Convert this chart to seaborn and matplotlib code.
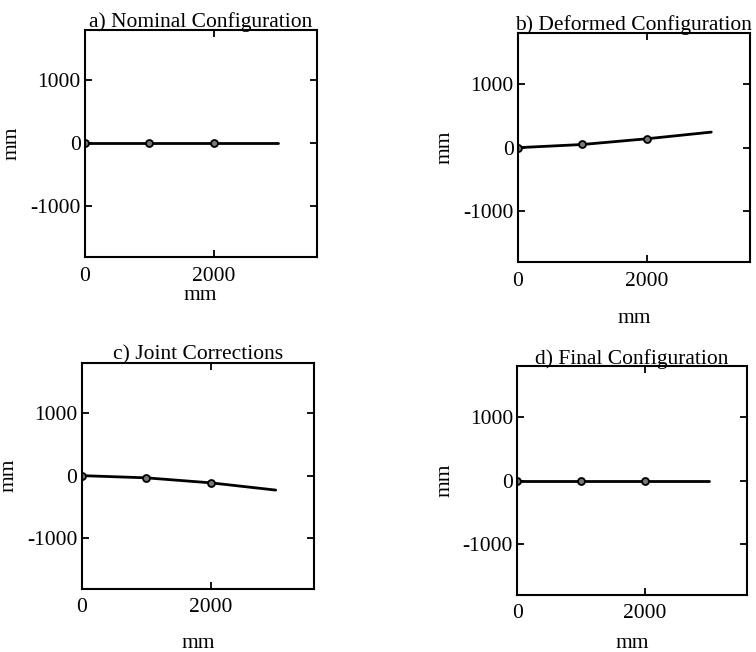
import matplotlib
matplotlib.use("Agg")
import matplotlib.pyplot as plt
import seaborn as sns
import pandas as pd

# Data
x_pos = [0, 1000, 2000, 3000]
nominal_y = [0, 0, 0, 0]
deformed_y = [0, 50, 140, 245]
corrections_y = [0, -35, -115, -230]
final_y = [0, 0, 0, 0]

titles = ["a) Nominal Configuration", "b) Deformed Configuration",
          "c) Joint Corrections", "d) Final Configuration"]
series = [nominal_y, deformed_y, corrections_y, final_y]
x_ticks = [0, 2000]
y_ticks = [-1000, 0, 1000]

sns.set_style("ticks")
plt.rcParams['font.family'] = ['Liberation Serif', 'DejaVu Serif']
plt.rcParams['text.color'] = 'black'
plt.rcParams['axes.labelcolor'] = 'black'
plt.rcParams['xtick.color'] = 'black'
plt.rcParams['ytick.color'] = 'black'
FS = 15.5

fig = plt.figure(figsize=(7.56, 6.52), dpi=100)
positions = [
    [0.112, 0.606, 0.307, 0.348],
    [0.685, 0.598, 0.307, 0.351],
    [0.108, 0.097, 0.308, 0.347],
    [0.684, 0.088, 0.304, 0.350],
]
xlabelpads = [0, 13, 12, 8]

for pos, title, ys, lp in zip(positions, titles, series, xlabelpads):
    ax = fig.add_axes(pos)
    df = pd.DataFrame({"x": x_pos, "y": ys})
    sns.lineplot(data=df, x="x", y="y", ax=ax, color="black", linewidth=2.0,
                 marker="o", markevery=[0, 1, 2], markersize=5,
                 markerfacecolor="#777777", markeredgecolor="black",
                 markeredgewidth=1.3, sort=False)
    ax.set_xlim(0, 3600)
    ax.set_ylim(-1800, 1800)
    ax.set_xticks(x_ticks)
    ax.set_yticks(y_ticks)
    ax.set_xticklabels([str(t) for t in x_ticks])
    ax.set_yticklabels([str(t) for t in y_ticks])
    ax.tick_params(direction="in", top=True, right=True, length=5, width=1.3,
                   labelsize=FS, colors="black")
    ax.tick_params(axis="x", pad=7)
    ax.tick_params(axis="y", pad=3)
    for sp in ax.spines.values():
        sp.set_linewidth(1.5)
        sp.set_color("black")
    ax.set_title(title, fontsize=FS, pad=2, color="black")
    ax.set_xlabel("mm", fontsize=FS, labelpad=lp, color="black")
    ax.set_ylabel("mm", fontsize=FS, labelpad=6, color="black")

fig.savefig("out.png", dpi=100)
